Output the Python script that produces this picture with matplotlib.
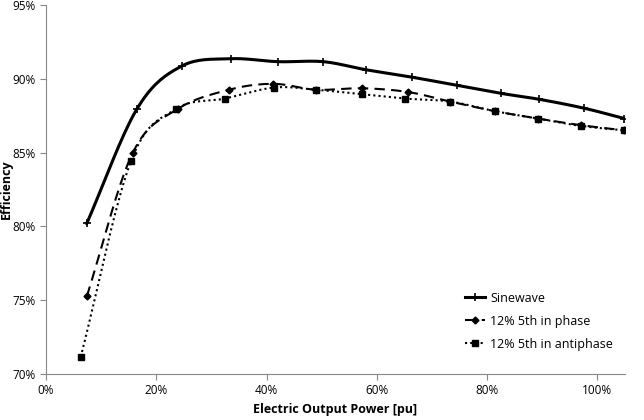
import numpy as np
import matplotlib
matplotlib.use("Agg")
import matplotlib.pyplot as plt
from matplotlib.ticker import PercentFormatter

plt.rcParams['font.family'] = ['Open Sans', 'DejaVu Sans']

# power [pu] and efficiency [%]
sine_x = [0.074, 0.165, 0.246, 0.335, 0.421, 0.503, 0.581, 0.664, 0.745, 0.826, 0.895, 0.976, 1.049]
sine_y = [80.2, 87.95, 90.85, 91.35, 91.15, 91.15, 90.6, 90.1, 89.55, 89.0, 88.6, 88.0, 87.3]

inph_x = [0.074, 0.157, 0.239, 0.332, 0.412, 0.490, 0.573, 0.656, 0.733, 0.814, 0.892, 0.970, 1.049]
inph_y = [75.25, 84.95, 87.95, 89.25, 89.65, 89.25, 89.35, 89.1, 88.45, 87.8, 87.3, 86.85, 86.5]

anti_x = [0.063, 0.154, 0.236, 0.324, 0.414, 0.490, 0.573, 0.652, 0.733, 0.814, 0.892, 0.970, 1.049]
anti_y = [71.15, 84.4, 87.95, 88.65, 89.4, 89.25, 88.95, 88.65, 88.45, 87.8, 87.3, 86.8, 86.5]


def smooth(x, y, n=20):
    # catmull-rom curve through the points, like excel's smoothed line
    x = np.asarray(x, float)
    y = np.asarray(y, float)
    px = np.concatenate([[2*x[0]-x[1]], x, [2*x[-1]-x[-2]]])
    py = np.concatenate([[2*y[0]-y[1]], y, [2*y[-1]-y[-2]]])
    t = np.linspace(0, 1, n)
    xs, ys = [], []
    for i in range(1, len(px)-2):
        for p, out in ((px, xs), (py, ys)):
            p0, p1, p2, p3 = p[i-1], p[i], p[i+1], p[i+2]
            out.extend(0.5*((2*p1) + (-p0+p2)*t + (2*p0-5*p1+4*p2-p3)*t**2
                            + (-p0+3*p1-3*p2+p3)*t**3))
    return np.array(xs), np.array(ys)


fig = plt.figure(figsize=(6.44, 4.2), dpi=100)
ax = fig.add_axes([0.0714, 0.1095, 0.899, 0.879])

sx, sy = smooth(sine_x, sine_y)
ax.plot(sx, sy, color="black", lw=2.2)
ax.plot(sine_x, sine_y, ls="none", marker="+", ms=6, mew=1.2, color="black")
ax.plot([], [], color="black", lw=2.2, marker="+", ms=6, mew=1.2, label="Sinewave")

ix, iy = smooth(inph_x, inph_y)
ax.plot(ix, iy, color="black", lw=1.5, ls=(0, (5, 3)))
ax.plot(inph_x, inph_y, ls="none", marker="D", ms=3.5, color="black")
ax.plot([], [], color="black", lw=1.5, ls=(0, (5, 3)), marker="D", ms=3.5, label="12% 5th in phase")

ax_, ay = smooth(anti_x, anti_y)
ax.plot(ax_, ay, color="black", lw=1.5, ls=(0, (1, 1.5)))
ax.plot(anti_x, anti_y, ls="none", marker="s", ms=4.5, color="black")
ax.plot([], [], color="black", lw=1.5, ls=(0, (1, 1.5)), marker="s", ms=4.5, label="12% 5th in antiphase")

ax.set_xlim(0, 1.05)
ax.set_ylim(70, 95)
ax.set_xticks([0, 0.2, 0.4, 0.6, 0.8, 1.0])
ax.set_yticks([70, 75, 80, 85, 90, 95])
ax.xaxis.set_major_formatter(PercentFormatter(1.0, decimals=0))
ax.yaxis.set_major_formatter(PercentFormatter(100, decimals=0))
ax.tick_params(labelsize=8.5, color="#888888", length=4)

for s in ["top", "right"]:
    ax.spines[s].set_visible(False)
for s in ["left", "bottom"]:
    ax.spines[s].set_color("#888888")

ax.set_xlabel("Electric Output Power [pu]", fontsize=9, fontweight="bold", labelpad=4)
ax.set_ylabel("Efficiency", fontsize=9, fontweight="bold")
ax.yaxis.set_label_coords(-0.058, 0.5)

ax.legend(loc="lower right", bbox_to_anchor=(0.999, 0.033), frameon=False, fontsize=9,
          handlelength=1.6, handletextpad=0.4, labelspacing=0.8)

fig.savefig("out.png", dpi=100)
